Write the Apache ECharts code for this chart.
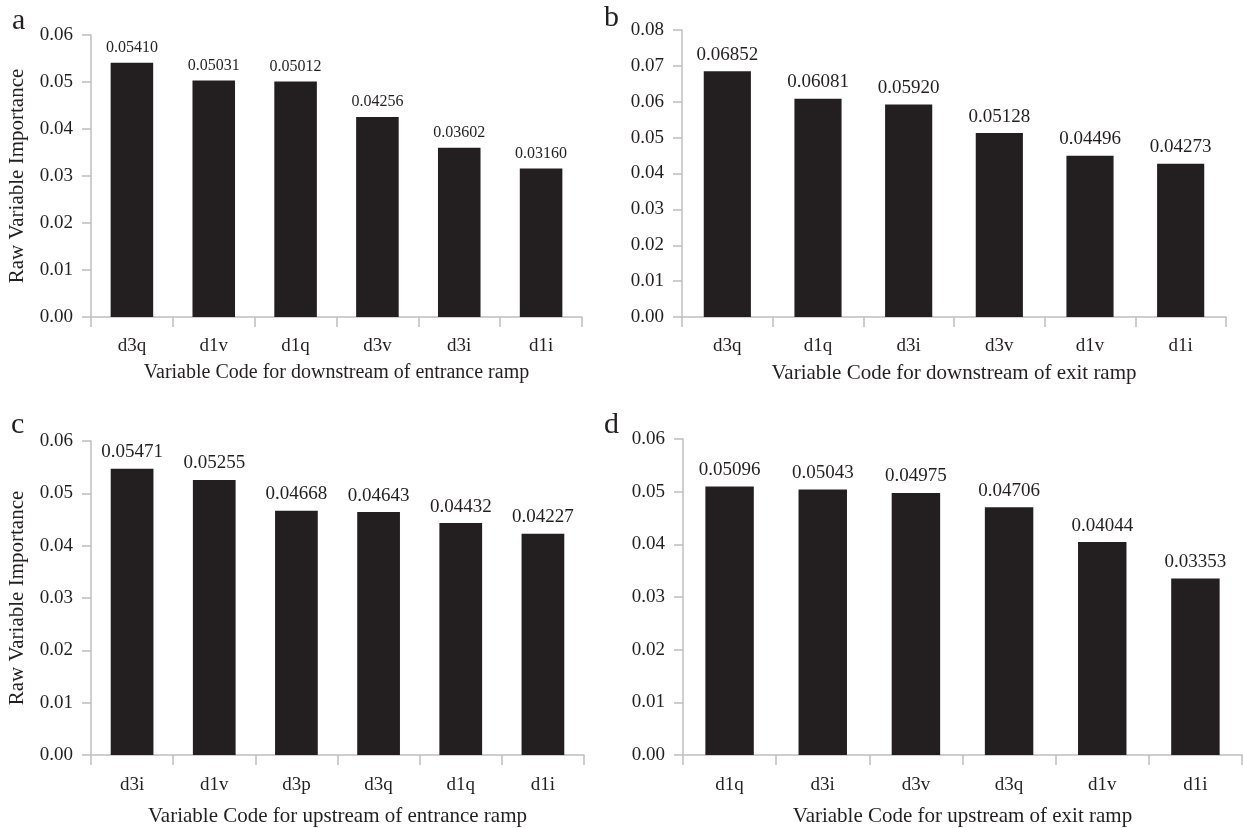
<!DOCTYPE html>
<html>
<head>
<meta charset="utf-8">
<script src="https://cdn.jsdelivr.net/npm/echarts@6/dist/echarts.min.js"></script>
<style>
html,body{margin:0;padding:0;background:#fff;}
#chart{width:1244px;height:828px;}
</style>
</head>
<body>
<div id="chart"></div>
<script>
// Panel a: downstream of entrance ramp
const catsA = ['d3q','d1v','d1q','d3v','d3i','d1i'];
const valsA = [0.05410,0.05031,0.05012,0.04256,0.03602,0.03160];
// Panel b: downstream of exit ramp
const catsB = ['d3q','d1q','d3i','d3v','d1v','d1i'];
const valsB = [0.06852,0.06081,0.05920,0.05128,0.04496,0.04273];
// Panel c: upstream of entrance ramp
const catsC = ['d3i','d1v','d3p','d3q','d1q','d1i'];
const valsC = [0.05471,0.05255,0.04668,0.04643,0.04432,0.04227];
// Panel d: upstream of exit ramp
const catsD = ['d1q','d3i','d3v','d3q','d1v','d1i'];
const valsD = [0.05096,0.05043,0.04975,0.04706,0.04044,0.03353];

const xNames = ['Variable Code for downstream of entrance ramp','Variable Code for downstream of exit ramp',
  'Variable Code for upstream of entrance ramp','Variable Code for upstream of exit ramp'];
const yMax = [0.06,0.08,0.06,0.06];

const FONT = '"Liberation Serif","DejaVu Serif",serif';
const TXT = '#231f20';
const AX = '#bfbfbf';

const grids = [
  {left:91, top:35, width:491, height:282},
  {left:682, top:30, width:544, height:287},
  {left:91, top:441, width:493, height:315},
  {left:683, top:439, width:559, height:317}
];
const cats = [catsA,catsB,catsC,catsD];
const vals = [valsA,valsB,valsC,valsD];
const valFont = [16,19,19,19];
const nameFont = [20,21,21,21];
const nameGaps = [46,46,51,51];
const labelMargins = [20,20,21,21];

const option = {
  animation:false,
  backgroundColor:'#fff',
  textStyle:{fontFamily:FONT},
  grid: grids.map(g=>Object.assign({containLabel:false},g)),
  xAxis: cats.map((c,i)=>({
    type:'category', gridIndex:i, data:c,
    name:xNames[i], nameLocation:'middle', nameGap:nameGaps[i],
    nameTextStyle:{fontFamily:FONT,fontSize:nameFont[i],color:TXT},
    axisLine:{lineStyle:{color:AX,width:1.5}},
    axisTick:{show:true,length:10,lineStyle:{color:AX,width:1.5}},
    axisLabel:{fontFamily:FONT,fontSize:19,color:TXT,margin:labelMargins[i]}
  })),
  yAxis: yMax.map((m,i)=>({
    type:'value', gridIndex:i, min:0, max:m, interval:0.01,
    name: (i===0||i===2)?'Raw Variable Importance':'',
    nameLocation:'middle', nameGap:63, nameRotate:90,
    nameTextStyle:{fontFamily:FONT,fontSize:21,color:TXT},
    axisLine:{show:true,lineStyle:{color:AX,width:1.5}},
    axisTick:{show:true,length:9,lineStyle:{color:AX,width:1.5}},
    splitLine:{show:false},
    axisLabel:{fontFamily:FONT,fontSize:19,color:TXT,margin:18,formatter:v=>v.toFixed(2)}
  })),
  series: vals.map((v,i)=>({
    type:'bar', xAxisIndex:i, yAxisIndex:i, data:v, barWidth:'52%',
    itemStyle:{color:'#231f20'},
    label:{show:true,position:'top',distance:7,fontFamily:FONT,fontSize:valFont[i],color:TXT,
      formatter:p=>p.value.toFixed(5)}
  })),
  graphic: [
    {type:'text',left:12,top:6,style:{text:'a',font:'30px "Liberation Serif", serif',fill:TXT}},
    {type:'text',left:604,top:3,style:{text:'b',font:'30px "Liberation Serif", serif',fill:TXT}},
    {type:'text',left:11,top:410,style:{text:'c',font:'30px "Liberation Serif", serif',fill:TXT}},
    {type:'text',left:604,top:410,style:{text:'d',font:'30px "Liberation Serif", serif',fill:TXT}}
  ]
};
const chart = echarts.init(document.getElementById('chart'),null,{renderer:'canvas'});
chart.setOption(option);
</script>
</body>
</html>
